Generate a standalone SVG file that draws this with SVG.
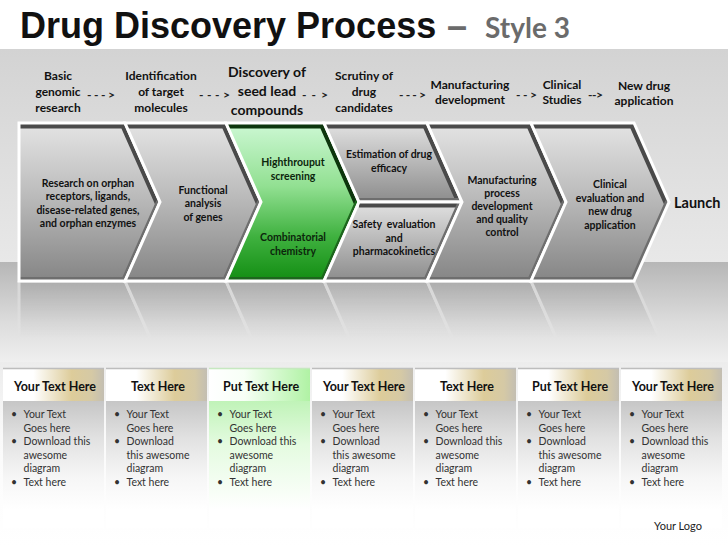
<svg xmlns="http://www.w3.org/2000/svg" xmlns:xlink="http://www.w3.org/1999/xlink" width="728" height="546" viewBox="0 0 728 546">
<defs>
<style>
.t{font-family:Lato,"Liberation Sans",sans-serif;font-weight:700;fill:#111;text-anchor:middle}
.lbl{font-size:12px}
.lbl2{font-size:14px}
.ch{font-size:10.5px}
.chg{font-size:10.5px;fill:#0c260c}
.arr{font-family:Lato,"Liberation Sans",sans-serif;font-weight:700;font-size:12px;fill:#222}
.hd{font-family:Lato,"Liberation Sans",sans-serif;font-weight:700;font-size:12.5px;fill:#111;text-anchor:middle}
.bl{font-family:Lato,"Liberation Sans",sans-serif;font-size:10.5px;fill:#333}
.edge{fill:none;stroke:#fff;stroke-width:3;stroke-linejoin:miter}
.bd{fill:none;stroke:#4a4a4a;stroke-width:11}
.bm{fill:none;stroke:#6e6e6e;stroke-width:8}
.gbd{fill:none;stroke:#0d360d;stroke-width:11}
.gbm{fill:none;stroke:#1d661d;stroke-width:8}
.hl{stroke:#bdbdbd;stroke-width:1.5}
</style>
<linearGradient id="bgTop" x1="0" y1="0" x2="0" y2="1">
<stop offset="0" stop-color="#d3d3d3"/><stop offset="1" stop-color="#e8e8e8"/>
</linearGradient>
<linearGradient id="bgBand" x1="0" y1="0" x2="0" y2="1">
<stop offset="0" stop-color="#b6b6b6"/><stop offset="0.6" stop-color="#dcdcdc"/><stop offset="1" stop-color="#efefef"/>
</linearGradient>
<linearGradient id="bgLow" x1="0" y1="0" x2="0" y2="1">
<stop offset="0" stop-color="#ececec"/><stop offset="0.4" stop-color="#fafafa"/><stop offset="1" stop-color="#ffffff"/>
</linearGradient>
<linearGradient id="gg" gradientUnits="userSpaceOnUse" x1="0" y1="123" x2="0" y2="281">
<stop offset="0" stop-color="#e4e4e4"/><stop offset="0.45" stop-color="#bcbcbc"/><stop offset="1" stop-color="#858585"/>
</linearGradient>
<linearGradient id="gh" x1="0" y1="0" x2="0" y2="1">
<stop offset="0" stop-color="#e2e2e2"/><stop offset="1" stop-color="#8c8c8c"/>
</linearGradient>
<linearGradient id="gGreen" gradientUnits="userSpaceOnUse" x1="0" y1="123" x2="0" y2="281">
<stop offset="0" stop-color="#cdf8d4"/><stop offset="0.4" stop-color="#92e092"/><stop offset="0.72" stop-color="#3fb13f"/><stop offset="1" stop-color="#128d12"/>
</linearGradient>
<linearGradient id="rmg" gradientUnits="userSpaceOnUse" x1="0" y1="281" x2="0" y2="338">
<stop offset="0" stop-color="#5c5c5c"/><stop offset="1" stop-color="#000"/>
</linearGradient>
<mask id="rm"><rect x="0" y="281" width="728" height="60" fill="url(#rmg)"/></mask>
<linearGradient id="hdG" x1="0" y1="0" x2="1" y2="0">
<stop offset="0" stop-color="#ffffff"/><stop offset="0.3" stop-color="#ffffff"/><stop offset="0.68" stop-color="#ddcc9a"/><stop offset="0.88" stop-color="#d5c9a5"/><stop offset="1" stop-color="#c3beb2"/>
</linearGradient>
<linearGradient id="hdGreen" x1="0" y1="0" x2="1" y2="0">
<stop offset="0" stop-color="#ffffff"/><stop offset="0.35" stop-color="#f7fff6"/><stop offset="1" stop-color="#b0f2a4"/>
</linearGradient>
<linearGradient id="bodyG" gradientUnits="userSpaceOnUse" x1="0" y1="401" x2="0" y2="510">
<stop offset="0" stop-color="#c6c6c6"/><stop offset="0.35" stop-color="#e2e2e2"/><stop offset="0.7" stop-color="#f6f6f6"/><stop offset="1" stop-color="#ffffff"/>
</linearGradient>
<linearGradient id="bodyGreen" gradientUnits="userSpaceOnUse" x1="0" y1="401" x2="0" y2="510">
<stop offset="0" stop-color="#c0f3b8"/><stop offset="0.4" stop-color="#e4fbe0"/><stop offset="1" stop-color="#ffffff"/>
</linearGradient>
<polygon id="p1" points="19,123 125,123 160,202 125,281 19,281"/>
<polygon id="p2" points="125,123 226,123 261,202 226,281 125,281 160,202"/>
<polygon id="p3" points="226,123 324,123 359,202 324,281 226,281 261,202"/>
<polygon id="p4a" points="324,123 427,123 462,202 359,202"/>
<polygon id="p4b" points="359,202 462,202 427,281 324,281"/>
<polygon id="p5" points="427,123 531,123 566,202 531,281 427,281 462,202"/>
<polygon id="p6" points="531,123 634,123 669,202 634,281 531,281 566,202"/>
<clipPath id="cp1"><use xlink:href="#p1"/></clipPath>
<clipPath id="cp2"><use xlink:href="#p2"/></clipPath>
<clipPath id="cp3"><use xlink:href="#p3"/></clipPath>
<clipPath id="cp4a"><use xlink:href="#p4a"/></clipPath>
<clipPath id="cp4b"><use xlink:href="#p4b"/></clipPath>
<clipPath id="cp5"><use xlink:href="#p5"/></clipPath>
<clipPath id="cp6"><use xlink:href="#p6"/></clipPath>
</defs>

<!-- background -->
<rect x="0" y="0" width="728" height="546" fill="#ffffff"/>
<rect x="0" y="49" width="728" height="213" fill="url(#bgTop)"/>
<rect x="0" y="262" width="728" height="100" fill="url(#bgBand)"/>
<rect x="0" y="362" width="728" height="184" fill="url(#bgLow)"/>

<!-- title -->
<g id="title">
<text x="20" y="38" font-family="'Liberation Sans',Arial,sans-serif" font-weight="700" font-size="36" fill="#111">Drug Discovery Process</text>
<text x="447" y="38" font-family="'Liberation Sans',Arial,sans-serif" font-weight="700" font-size="36" fill="#6b6b6b">–</text>
<text x="485" y="38" font-family="Lato,'Liberation Sans',sans-serif" font-weight="700" font-size="28" fill="#6b6b6b">Style 3</text>
</g>

<!-- reflection -->
<g mask="url(#rm)">
<g transform="matrix(1 0 0 -1 0 562)">
<use xlink:href="#p1" fill="url(#gg)" stroke="#fff" stroke-width="3"/>
<use xlink:href="#p2" fill="url(#gg)" stroke="#fff" stroke-width="3"/>
<use xlink:href="#p3" fill="url(#gg)" stroke="#fff" stroke-width="3"/>
<use xlink:href="#p4a" fill="url(#gh)" stroke="#fff" stroke-width="3"/>
<use xlink:href="#p4b" fill="url(#gh)" stroke="#fff" stroke-width="3"/>
<use xlink:href="#p5" fill="url(#gg)" stroke="#fff" stroke-width="3"/>
<use xlink:href="#p6" fill="url(#gg)" stroke="#fff" stroke-width="3"/>
</g>
</g>

<!-- top stage labels -->
<g id="label-basic"><text class="t lbl"><tspan x="58" y="80">Basic</tspan><tspan x="58" y="96">genomic</tspan><tspan x="58" y="112">research</tspan></text></g>
<g id="label-identification"><text class="t lbl"><tspan x="161" y="80">Identification</tspan><tspan x="161" y="96">of target</tspan><tspan x="161" y="112">molecules</tspan></text></g>
<g id="label-discovery"><text class="t lbl2"><tspan x="267" y="77">Discovery of</tspan><tspan x="267" y="96">seed lead</tspan><tspan x="267" y="115">compounds</tspan></text></g>
<g id="label-scrutiny"><text class="t lbl"><tspan x="364" y="80">Scrutiny of</tspan><tspan x="364" y="96">drug</tspan><tspan x="364" y="112">candidates</tspan></text></g>
<g id="label-manufacturing"><text class="t lbl"><tspan x="470" y="89">Manufacturing</tspan><tspan x="470" y="104">development</tspan></text></g>
<g id="label-clinical"><text class="t lbl"><tspan x="562" y="89">Clinical</tspan><tspan x="562" y="104">Studies</tspan></text></g>
<g id="label-nda"><text class="t lbl"><tspan x="644" y="90">New drug</tspan><tspan x="644" y="105">application</tspan></text></g>

<g id="connectors">
<text class="arr" x="87" y="99" textLength="28" lengthAdjust="spacing">---&gt;</text>
<text class="arr" x="199" y="99" textLength="31" lengthAdjust="spacing">---&gt;</text>
<text class="arr" x="302" y="99" textLength="26" lengthAdjust="spacing">--&gt;</text>
<text class="arr" x="399" y="99" textLength="27" lengthAdjust="spacing">---&gt;</text>
<text class="arr" x="516" y="99" textLength="21" lengthAdjust="spacing">--&gt;</text>
<text class="arr" x="588" y="99" textLength="15" lengthAdjust="spacing">--&gt;</text>
</g>

<!-- chevrons -->
<g id="step-research">
<use xlink:href="#p1" fill="url(#gg)"/>
<g clip-path="url(#cp1)"><path class="bd" d="M19,123 H125 L160,202"/><path class="bm" d="M160,202 L125,281 H19"/></g>
<use xlink:href="#p1" class="edge"/>
<text class="t ch"><tspan x="88" y="187">Research on orphan</tspan><tspan x="88" y="200">receptors, ligands,</tspan><tspan x="88" y="213.5">disease-related genes,</tspan><tspan x="88" y="227">and orphan enzymes</tspan></text>
</g>
<g id="step-functional">
<use xlink:href="#p2" fill="url(#gg)"/>
<g clip-path="url(#cp2)"><path class="bd" d="M125,123 H226 L261,202"/><path class="bm" d="M261,202 L226,281 H125"/></g>
<use xlink:href="#p2" class="edge"/>
<text class="t ch"><tspan x="203" y="193.5">Functional</tspan><tspan x="203" y="207">analysis</tspan><tspan x="203" y="220.5">of genes</tspan></text>
</g>
<g id="step-screening">
<use xlink:href="#p3" fill="url(#gGreen)"/>
<g clip-path="url(#cp3)"><path class="gbd" d="M226,123 H324 L359,202"/><path class="gbm" d="M359,202 L324,281 H226"/></g>
<use xlink:href="#p3" class="edge"/>
<text class="t chg"><tspan x="293" y="166">Highthrouput</tspan><tspan x="293" y="180">screening</tspan><tspan x="293" y="241">Combinatorial</tspan><tspan x="293" y="255">chemistry</tspan></text>
</g>
<g id="step-efficacy">
<use xlink:href="#p4a" fill="url(#gh)"/>
<g clip-path="url(#cp4a)"><path class="bd" d="M324,123 H427 L462,202"/><path class="bm" d="M462,202 H359"/></g>
<use xlink:href="#p4a" class="edge"/>
<text class="t ch"><tspan x="389" y="158">Estimation of drug</tspan><tspan x="389" y="171.5">efficacy</tspan></text>
</g>
<g id="step-safety">
<use xlink:href="#p4b" fill="url(#gh)"/>
<g clip-path="url(#cp4b)"><path class="bd" d="M359,202 H462"/><path class="bm" d="M462,202 L427,281 H324"/></g>
<use xlink:href="#p4b" class="edge"/>
<text class="t ch" style="white-space:pre"><tspan x="394" y="228">Safety  evaluation</tspan><tspan x="394" y="241.5">and</tspan><tspan x="394" y="255">pharmacokinetics</tspan></text>
</g>
<g id="step-manufacturing">
<use xlink:href="#p5" fill="url(#gg)"/>
<g clip-path="url(#cp5)"><path class="bd" d="M427,123 H531 L566,202"/><path class="bm" d="M566,202 L531,281 H427"/></g>
<use xlink:href="#p5" class="edge"/>
<text class="t ch"><tspan x="502" y="184">Manufacturing</tspan><tspan x="502" y="197">process</tspan><tspan x="502" y="210">development</tspan><tspan x="502" y="223">and quality</tspan><tspan x="502" y="236">control</tspan></text>
</g>
<g id="step-clinical">
<use xlink:href="#p6" fill="url(#gg)"/>
<g clip-path="url(#cp6)"><path class="bd" d="M531,123 H634 L669,202"/><path class="bm" d="M669,202 L634,281 H531"/></g>
<use xlink:href="#p6" class="edge"/>
<text class="t ch"><tspan x="610" y="188">Clinical</tspan><tspan x="610" y="201.5">evaluation and</tspan><tspan x="610" y="215">new drug</tspan><tspan x="610" y="228.5">application</tspan></text>
</g>
<g id="launch">
<text x="674" y="208" font-family="Lato,'Liberation Sans',sans-serif" font-weight="700" font-size="14.5" fill="#111">Launch</text>
</g>

<!-- table columns -->
<g id="col-1">
<rect x="3" y="368" width="101" height="33" fill="url(#hdG)"/><line class="hl" x1="3" y1="368.5" x2="104" y2="368.5"/>
<rect x="3" y="401" width="101" height="127" fill="url(#bodyG)"/>
<text class="hd" x="55" y="391">Your Text Here</text>
<text class="bl"><tspan x="11" y="418">•</tspan><tspan x="11" y="445">•</tspan><tspan x="11" y="485.5">•</tspan></text>
<text class="bl"><tspan x="23.5" y="418">Your Text</tspan><tspan x="23.5" y="431.5">Goes here</tspan><tspan x="23.5" y="445">Download this</tspan><tspan x="23.5" y="458.5">awesome</tspan><tspan x="23.5" y="472">diagram</tspan><tspan x="23.5" y="485.5">Text here</tspan></text>
</g>
<g id="col-2">
<rect x="106" y="368" width="101" height="33" fill="url(#hdG)"/><line class="hl" x1="106" y1="368.5" x2="207" y2="368.5"/>
<rect x="106" y="401" width="101" height="127" fill="url(#bodyG)"/>
<text class="hd" x="158" y="391">Text Here</text>
<text class="bl"><tspan x="114" y="418">•</tspan><tspan x="114" y="445">•</tspan><tspan x="114" y="485.5">•</tspan></text>
<text class="bl"><tspan x="126.5" y="418">Your Text</tspan><tspan x="126.5" y="431.5">Goes here</tspan><tspan x="126.5" y="445">Download</tspan><tspan x="126.5" y="458.5">this awesome</tspan><tspan x="126.5" y="472">diagram</tspan><tspan x="126.5" y="485.5">Text here</tspan></text>
</g>
<g id="col-3">
<rect x="209" y="368" width="101" height="33" fill="url(#hdGreen)"/><line class="hl" x1="209" y1="368.5" x2="310" y2="368.5" style="stroke:#c6e8c0"/>
<rect x="209" y="401" width="101" height="127" fill="url(#bodyGreen)"/>
<text class="hd" x="261" y="391">Put Text Here</text>
<text class="bl"><tspan x="217" y="418">•</tspan><tspan x="217" y="445">•</tspan><tspan x="217" y="485.5">•</tspan></text>
<text class="bl"><tspan x="229.5" y="418">Your Text</tspan><tspan x="229.5" y="431.5">Goes here</tspan><tspan x="229.5" y="445">Download this</tspan><tspan x="229.5" y="458.5">awesome</tspan><tspan x="229.5" y="472">diagram</tspan><tspan x="229.5" y="485.5">Text here</tspan></text>
</g>
<g id="col-4">
<rect x="312" y="368" width="101" height="33" fill="url(#hdG)"/><line class="hl" x1="312" y1="368.5" x2="413" y2="368.5"/>
<rect x="312" y="401" width="101" height="127" fill="url(#bodyG)"/>
<text class="hd" x="364" y="391">Your Text Here</text>
<text class="bl"><tspan x="320" y="418">•</tspan><tspan x="320" y="445">•</tspan><tspan x="320" y="485.5">•</tspan></text>
<text class="bl"><tspan x="332.5" y="418">Your Text</tspan><tspan x="332.5" y="431.5">Goes here</tspan><tspan x="332.5" y="445">Download</tspan><tspan x="332.5" y="458.5">this awesome</tspan><tspan x="332.5" y="472">diagram</tspan><tspan x="332.5" y="485.5">Text here</tspan></text>
</g>
<g id="col-5">
<rect x="415" y="368" width="101" height="33" fill="url(#hdG)"/><line class="hl" x1="415" y1="368.5" x2="516" y2="368.5"/>
<rect x="415" y="401" width="101" height="127" fill="url(#bodyG)"/>
<text class="hd" x="467" y="391">Text Here</text>
<text class="bl"><tspan x="423" y="418">•</tspan><tspan x="423" y="445">•</tspan><tspan x="423" y="485.5">•</tspan></text>
<text class="bl"><tspan x="435.5" y="418">Your Text</tspan><tspan x="435.5" y="431.5">Goes here</tspan><tspan x="435.5" y="445">Download this</tspan><tspan x="435.5" y="458.5">awesome</tspan><tspan x="435.5" y="472">diagram</tspan><tspan x="435.5" y="485.5">Text here</tspan></text>
</g>
<g id="col-6">
<rect x="518" y="368" width="101" height="33" fill="url(#hdG)"/><line class="hl" x1="518" y1="368.5" x2="619" y2="368.5"/>
<rect x="518" y="401" width="101" height="127" fill="url(#bodyG)"/>
<text class="hd" x="570" y="391">Put Text Here</text>
<text class="bl"><tspan x="526" y="418">•</tspan><tspan x="526" y="445">•</tspan><tspan x="526" y="485.5">•</tspan></text>
<text class="bl"><tspan x="538.5" y="418">Your Text</tspan><tspan x="538.5" y="431.5">Goes here</tspan><tspan x="538.5" y="445">Download</tspan><tspan x="538.5" y="458.5">this awesome</tspan><tspan x="538.5" y="472">diagram</tspan><tspan x="538.5" y="485.5">Text here</tspan></text>
</g>
<g id="col-7">
<rect x="621" y="368" width="101" height="33" fill="url(#hdG)"/><line class="hl" x1="621" y1="368.5" x2="722" y2="368.5"/>
<rect x="621" y="401" width="101" height="127" fill="url(#bodyG)"/>
<text class="hd" x="673" y="391">Your Text Here</text>
<text class="bl"><tspan x="629" y="418">•</tspan><tspan x="629" y="445">•</tspan><tspan x="629" y="485.5">•</tspan></text>
<text class="bl"><tspan x="641.5" y="418">Your Text</tspan><tspan x="641.5" y="431.5">Goes here</tspan><tspan x="641.5" y="445">Download this</tspan><tspan x="641.5" y="458.5">awesome</tspan><tspan x="641.5" y="472">diagram</tspan><tspan x="641.5" y="485.5">Text here</tspan></text>
</g>

<g id="logo">
<text x="654" y="530" font-family="Lato,'Liberation Sans',sans-serif" font-size="11" fill="#222">Your Logo</text>
</g>
</svg>
